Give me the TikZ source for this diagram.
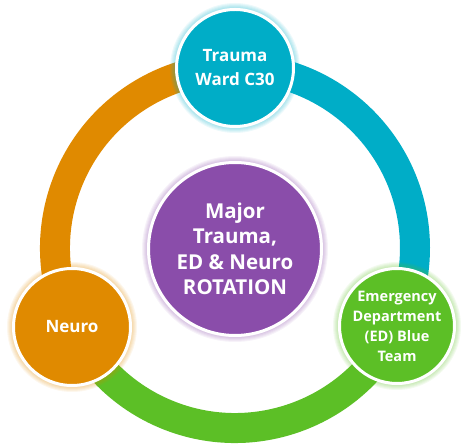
\documentclass[tikz,border=0pt]{standalone}
\usepackage{fontspec}
\setmainfont{Open Sans}
\definecolor{tealc}{RGB}{0,173,199}
\definecolor{orangec}{RGB}{224,138,0}
\definecolor{greenc}{RGB}{92,191,38}
\definecolor{purplec}{RGB}{138,77,170}
\tikzset{
  ring/.style={line width=30pt},
  bubble/.style={circle, draw=white, line width=3pt, text=white, align=center, inner sep=0pt},
  glow/.style={fill=#1, fill opacity=0.07, draw=none}
}
\begin{document}
\begin{tikzpicture}[x=1pt,y=1pt]
\useasboundingbox (0,0) rectangle (466,444);
\coordinate (c0) at (235,196);
% ring
\draw[ring, tealc] ([shift={(92:180)}]c0) arc[start angle=92, end angle=-28, radius=180];
\draw[ring, greenc] ([shift={(-24:180)}]c0) arc[start angle=-24, end angle=-156, radius=180];
\draw[ring, orangec] ([shift={(-152:180)}]c0) arc[start angle=208, end angle=88, radius=180];
% glows
\foreach \p/\r/\c in {{235,376}/60/tealc, {397,118}/59/greenc, {72,117}/60/orangec, {235,195}/88/purplec}{
  \foreach \d in {1,2,3,4,5}{
    \fill[glow=\c] (\p) circle[radius=\r+\d];
  }
}
% nodes
\node[bubble, fill=purplec, minimum size=173pt, font=\bfseries\fontsize{20.5}{25.5}\selectfont] (center) at (235,195) {Major\\Trauma,\\ED \& Neuro\\ROTATION};
\node[bubble, fill=tealc, minimum size=117pt, font=\bfseries\fontsize{17}{24}\selectfont] (trauma) at (235,376) {Trauma\\Ward C30};
\node[bubble, fill=greenc, minimum size=115pt, font=\bfseries\fontsize{14.5}{20}\selectfont] (ed) at (397,118) {Emergency\\Department\\(ED) Blue\\Team};
\node[bubble, fill=orangec, minimum size=117pt, font=\bfseries\fontsize{17}{24}\selectfont] (neuro) at (72,117) {Neuro};
\end{tikzpicture}
\end{document}
